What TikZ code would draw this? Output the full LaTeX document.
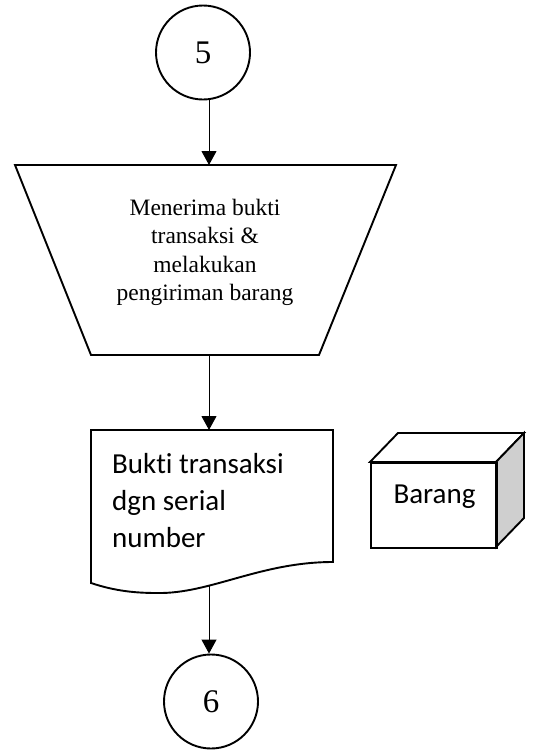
\documentclass[tikz,border=0pt]{standalone}
\usepackage{fontspec}
\setmainfont{Liberation Serif}
\newfontfamily\calib[Ligatures=NoCommon]{Carlito}
\usetikzlibrary{arrows.meta}
\tikzset{
  outline/.style={line width=1.9pt, line join=miter},
  connector/.style={line width=1pt, -{Triangle[width=15pt,length=14pt]}},
  offpage/.style={circle, draw, line width=1.9pt, minimum size=94pt, inner sep=0pt,
    font=\fontsize{33}{36}\selectfont},
  manualtext/.style={align=center, inner sep=0pt, font=\fontsize{23.5}{28.3}\selectfont},
  doctext/.style={align=left, inner sep=0pt, font=\calib\fontsize{29}{37}\selectfont},
}
\begin{document}
\begin{tikzpicture}[x=1pt,y=-1pt]
\useasboundingbox (0,0) rectangle (536,753);

% off-page connector 5
\node[offpage] (c5) at (203,52.5) {5};

% manual operation (inverted trapezoid)
\coordinate (tTL) at (15,165);
\coordinate (tTR) at (396,165);
\coordinate (tBR) at (319,355);
\coordinate (tBL) at (91,355);
\draw[outline] (tTL) -- (tTR) -- (tBR) -- (tBL) -- cycle;
\coordinate (trapIn) at (209,165);
\coordinate (trapOut) at (209,355);
\node[manualtext, anchor=north] (trap) at (205,199)
  {Menerima bukti\\transaksi \&\\melakukan\\pengiriman barang};

% document with wavy bottom
\coordinate (dTL) at (91,430);
\coordinate (dTR) at (333,430);
\draw[outline] (dTL) -- (dTR) -- (333,562)
  .. controls (260,562) and (210,594) .. (157,593)
  .. controls (135,593) and (115,591) .. (91,583) -- cycle;
\coordinate (docIn) at (209,430);
\coordinate (docOut) at (209,586);
\node[doctext, anchor=north west] (doc) at (112,453)
  {Bukti transaksi\\dgn serial\\number};

% goods box (3D block)
\draw[outline, fill=white] (370,462) -- (398,433) -- (524,433) -- (496,462) -- cycle;
\draw[outline, fill=black!19] (496,462) -- (524,433) -- (524,518) -- (496,547) -- cycle;
\node[draw, outline, minimum width=126pt, minimum height=85pt, inner sep=0pt,
  anchor=north west] (barang) at (370,462) {};
\node[font=\calib\fontsize{29}{34}\selectfont, inner sep=0pt, anchor=base] (barangtext)
  at (434.5,503) {Barang};

% off-page connector 6
\node[offpage] (c6) at (211,701.5) {6};

% flow connectors
\draw[connector] ([xshift=6pt]c5.south) -- (trapIn);
\draw[connector] (trapOut) -- (docIn);
\draw[connector] (docOut) -- (c6.north -| docOut);
\end{tikzpicture}
\end{document}
